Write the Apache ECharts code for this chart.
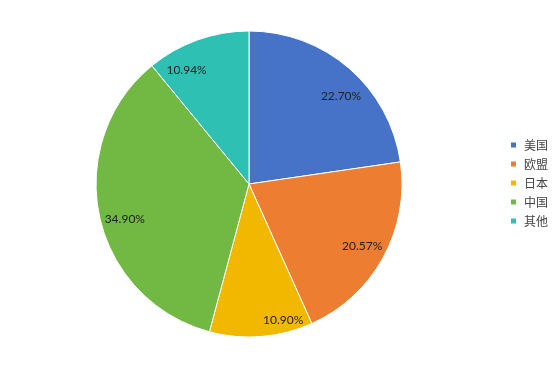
<!DOCTYPE html>
<html>
<head>
<meta charset="utf-8">
<script src="https://cdn.jsdelivr.net/npm/echarts@6/dist/echarts.min.js"></script>
<style>html,body{margin:0;padding:0;background:#fff;}#c{width:556px;height:369px;}</style>
</head>
<body>
<div id="c"></div>
<script>
const categories = ['美国', '欧盟', '日本', '中国', '其他'];
const shares = [22.70, 20.57, 10.90, 34.90, 10.94];
const colors = ['#4673C7', '#ED7D31', '#F2B800', '#72B944', '#2EC0B2'];

const CX = 249, CY = 184, R = 153;
// label placement tweaks (angle shift in degrees, radius in px), mimicking Excel's fit
const labelTweak = [[5.6, 127], [0, 129], [-9.5, 140], [-3.5, 129], [-9, 130]];
const total = shares.reduce((a, b) => a + b, 0);

const chart = echarts.init(document.getElementById('c'), null, {renderer: 'canvas'});
chart.setOption({
  animation: false,
  color: colors,
  legend: {
    orient: 'vertical',
    left: 504,
    top: 134,
    padding: 5,
    itemWidth: 7,
    itemHeight: 7,
    itemGap: 7,
    icon: 'rect',
    textStyle: {fontSize: 12, color: '#444', fontFamily: 'Noto Sans CJK SC', padding: [0, 0, 0, 2]},
    data: categories
  },
  series: [{
    type: 'pie',
    center: [CX, CY],
    radius: [0, R],
    startAngle: 90,
    clockwise: true,
    itemStyle: {borderColor: '#fff', borderWidth: 1},
    label: {
      show: true,
      position: 'inside',
      formatter: p => p.value.toFixed(2) + '%',
      fontSize: 12,
      color: '#222',
      fontFamily: 'Lato'
    },
    labelLine: {show: false},
    labelLayout: function (p) {
      const i = p.dataIndex;
      let before = 0;
      for (let k = 0; k < i; k++) before += shares[k];
      const mid = (before + shares[i] / 2) / total * 360 + labelTweak[i][0];
      const a = mid * Math.PI / 180;
      const r = labelTweak[i][1];
      return {x: CX + r * Math.sin(a), y: CY - r * Math.cos(a), align: 'center', verticalAlign: 'middle'};
    },
    data: categories.map((n, i) => ({name: n, value: shares[i]}))
  }]
});
</script>
</body>
</html>
